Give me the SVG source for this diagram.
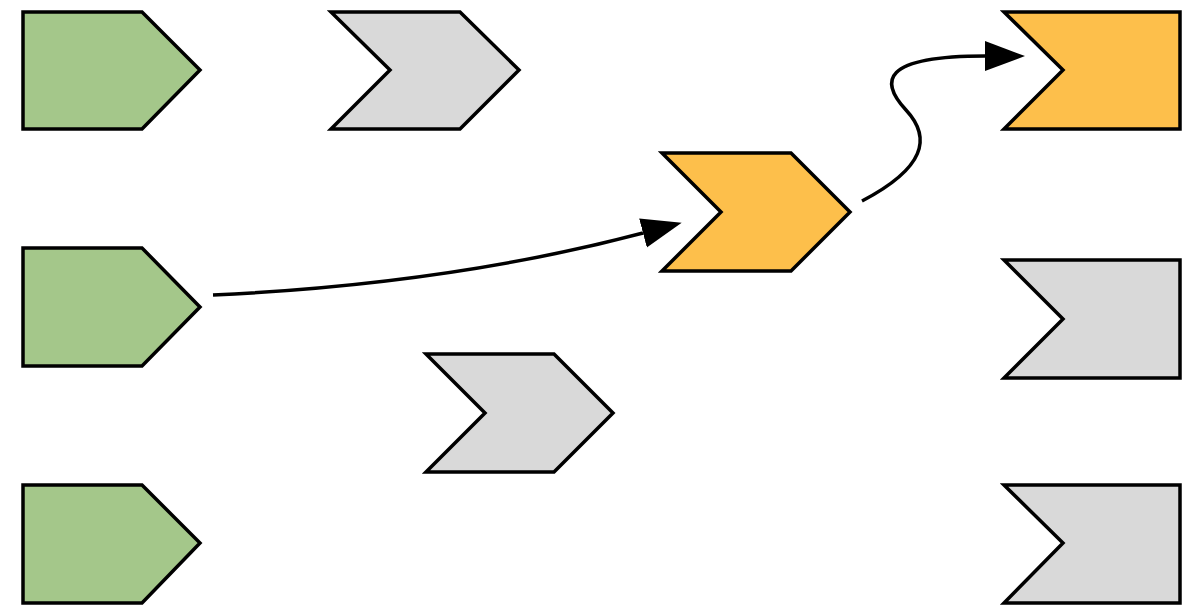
<svg xmlns="http://www.w3.org/2000/svg" width="1192" height="614" viewBox="0 0 1192 614">
<style>
.s{stroke:#000;stroke-width:3.5;stroke-linejoin:miter}
.g{fill:#a4c78a}
.y{fill:#d9d9d9}
.o{fill:#fdbf4b}
.c{fill:none;stroke:#000;stroke-width:3.5}
</style>
<defs>
<marker id="ah" markerUnits="userSpaceOnUse" markerWidth="44" markerHeight="32" refX="0" refY="15" orient="auto">
<path d="M0,0 L40,15 L0,30 Z" fill="#000"/>
</marker>
</defs>
<rect width="1192" height="614" fill="#fff"/>
<g id="green1"><path class="s g" d="M23,12 H142 L200,70 L142,129 H23 Z"/></g>
<g id="green2"><path class="s g" d="M23,248 H142 L200,307 L142,366 H23 Z"/></g>
<g id="green3"><path class="s g" d="M23,485 H142 L200,543 L142,603 H23 Z"/></g>
<g id="gray1"><path class="s y" d="M331,12 H460 L519,70 L460,129 H331 L390,70 Z"/></g>
<g id="gray2"><path class="s y" d="M426,354 H554 L613,413 L554,472 H426 L485,413 Z"/></g>
<g id="orange1"><path class="s o" d="M662,153 H791 L850,212 L791,271 H662 L721,212 Z"/></g>
<g id="orange2"><path class="s o" d="M1004,12 H1180 V129 H1004 L1063,70 Z"/></g>
<g id="gray3"><path class="s y" d="M1004,260 H1180 V378 H1004 L1063,319 Z"/></g>
<g id="gray4"><path class="s y" d="M1004,485 H1180 V603 H1004 L1063,543 Z"/></g>
<g id="connectors">
<path class="c" d="M213,295 Q450,284 643,233" marker-end="url(#ah)"/>
<path class="c" d="M862,201 C925,168 932,138 906,110 C880,82 880,56 985,56" marker-end="url(#ah)"/>
</g>
</svg>
